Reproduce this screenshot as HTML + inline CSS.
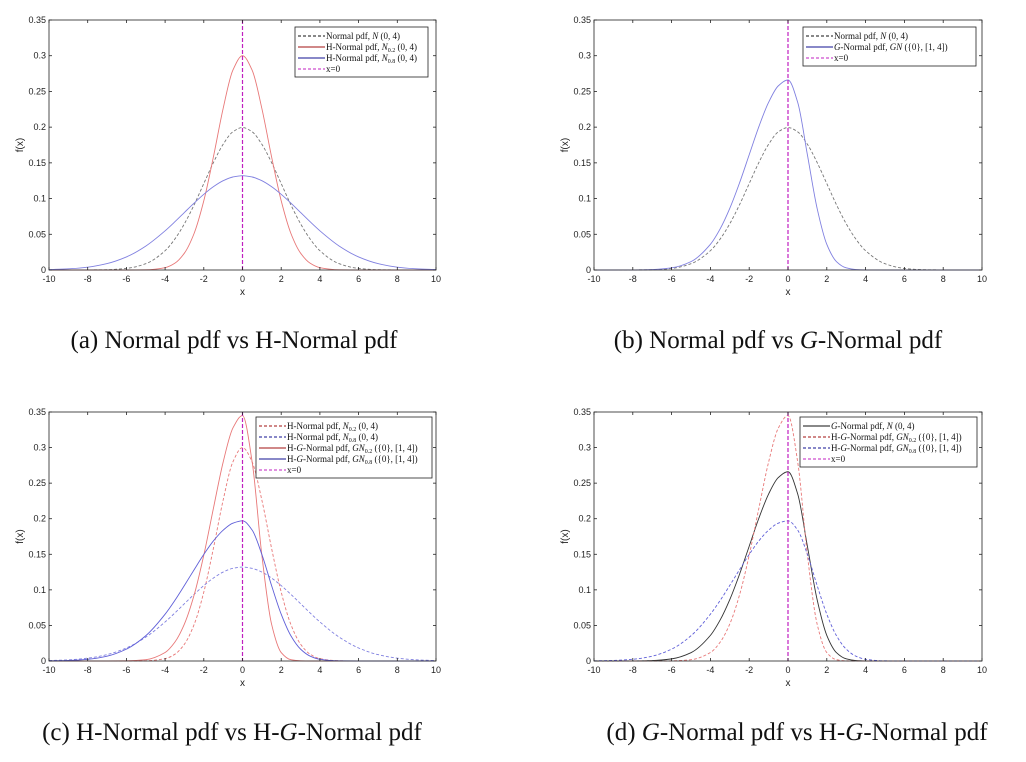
<!DOCTYPE html>
<html><head><meta charset="utf-8">
<style>
body{margin:0;background:#fff;width:1026px;height:762px;overflow:hidden}
svg{position:absolute;left:0;top:0}
text{font-family:"Liberation Sans",sans-serif}
.cap{font-family:"Liberation Serif",serif;font-size:25px;fill:#111}
.leg{font-family:"Liberation Serif",serif;font-size:9px;fill:#111}
</style></head>
<body>
<svg id="chart" width="1026" height="762"></svg>
<script>
const xs = [-10,-9,-8,-7,-6,-5,-4,-3.5,-3,-2.5,-2,-1.5,-1,-0.5,0,0.5,1,1.5,2,2.5,3,3.5,4,5,6,7,8,9,10];
const normal = [0,0,.0001,.0004,.0022,.0088,.0270,.0432,.0648,.0913,.1210,.1506,.1760,.1934,.1995,.1934,.1760,.1506,.1210,.0913,.0648,.0432,.0270,.0088,.0022,.0004,.0001,0,0];
const hNormal02 = [0,0,0,0,0,.0003,.0033,.0094,.0237,.0513,.0969,.1588,.2262,.2796,.30,.2796,.2262,.1588,.0969,.0513,.0237,.0094,.0033,.0003,0,0,0,0,0];
const hNormal08 = [.0006,.0016,.0040,.0090,.0183,.0335,.0549,.0674,.0806,.0937,.1060,.1167,.1250,.1302,.132,.1302,.1250,.1167,.1060,.0937,.0806,.0674,.0549,.0335,.0183,.0090,.0040,.0016,.0006];
const gNormal = [0,0,.0001,.0006,.0030,.0117,.0360,.0575,.0864,.1218,.1613,.2008,.2347,.2578,.266,.2347,.1613,.0864,.0360,.0117,.0030,.0006,.0001,0,0,0,0,0,0];
const hgNormal02 = [0,0,0,0,.0002,.0018,.0119,.0263,.0521,.0927,.1488,.2150,.2796,.3273,.345,.2796,.1488,.0521,.0119,.0018,.0002,0,0,0,0,0,0,0,0];
const hgNormal08 = [.0002,.0008,.0024,.0068,.0167,.0355,.0658,.0850,.1063,.1283,.1498,.1689,.1839,.1937,.197,.1839,.1498,.1063,.0658,.0355,.0167,.0068,.0024,.0002,0,0,0,0,0];
const xTicks = [-10,-8,-6,-4,-2,0,2,4,6,8,10];
const yTicks = [0,0.05,0.1,0.15,0.2,0.25,0.3,0.35];
const yTickLabels = ["0","0.05","0.1","0.15","0.2","0.25","0.3","0.35"];

const NS="http://www.w3.org/2000/svg";
const svg=document.getElementById('chart');
function mk(tag,attrs,parent){const e=document.createElementNS(NS,tag);for(const k in attrs)e.setAttribute(k,attrs[k]);(parent||svg).appendChild(e);return e;}

function smoothPath(px,py){
  const n=px.length,d=[],m=[];
  for(let i=0;i<n-1;i++)d.push((py[i+1]-py[i])/(px[i+1]-px[i]));
  m[0]=d[0];m[n-1]=d[n-2];
  for(let i=1;i<n-1;i++){ if(d[i-1]*d[i]<=0)m[i]=0; else {const w1=2*(px[i+1]-px[i])+(px[i]-px[i-1]),w2=(px[i+1]-px[i])+2*(px[i]-px[i-1]);m[i]=(w1+w2)/(w1/d[i-1]+w2/d[i]);} }
  let s="M"+px[0].toFixed(2)+","+py[0].toFixed(2);
  for(let i=0;i<n-1;i++){const h=(px[i+1]-px[i])/3;
    s+=" C"+(px[i]+h).toFixed(2)+","+(py[i]+m[i]*h).toFixed(2)+" "+(px[i+1]-h).toFixed(2)+","+(py[i+1]-m[i+1]*h).toFixed(2)+" "+px[i+1].toFixed(2)+","+py[i+1].toFixed(2);}
  return s;
}

function panel(id,L,T,R,B,series,legend,caption,capX,capY){
  const g=mk('g',{});
  
  
  const sx=v=>L+(v+10)/20*(R-L), sy=v=>B-v/0.35*(B-T);
  series.forEach(s=>{
    const p=mk('path',{d:smoothPath(xs.map(sx),s.data.map(sy)),fill:'none',stroke:s.color,'stroke-width':0.9,'stroke-dasharray':s.dash?'3,2':'none'},g);
    
    
  });
  const vl=mk('line',{x1:sx(0),x2:sx(0),y1:T,y2:B,stroke:'#c020c0','stroke-width':1.2,'stroke-dasharray':'4,2'},g);
  
  
  const ax=mk('rect',{x:L,y:T,width:R-L,height:B-T,fill:'none',stroke:'#222','stroke-width':0.8},g);
  
  
  xTicks.forEach(t=>{const x=sx(t);
    mk('line',{x1:x,x2:x,y1:B,y2:B-3,stroke:'#222','stroke-width':0.8},g);
    mk('line',{x1:x,x2:x,y1:T,y2:T+3,stroke:'#222','stroke-width':0.8},g);
    const tx=mk('text',{x:x,y:B+12,'font-size':9,'text-anchor':'middle',fill:'#222'},g);tx.textContent=t;
    
    
  });
  yTicks.forEach((t,i)=>{const y=sy(t);
    mk('line',{x1:L,x2:L+3,y1:y,y2:y,stroke:'#222','stroke-width':0.8},g);
    mk('line',{x1:R,x2:R-3,y1:y,y2:y,stroke:'#222','stroke-width':0.8},g);
    const tx=mk('text',{x:L-3,y:y+3,'font-size':9,'text-anchor':'end',fill:'#222'},g);tx.textContent=yTickLabels[i];
    
    
  });
  const xl=mk('text',{x:(L+R)/2,y:B+25,'font-size':10,'text-anchor':'middle',fill:'#222'},g);xl.textContent='x';
  
  
  const yl=mk('text',{x:0,y:0,'font-size':10,'text-anchor':'middle',fill:'#222',transform:`translate(${L-26},${(T+B)/2}) rotate(-90)`},g);yl.textContent='f(x)';
  
  
  // legend
  const lg=mk('g',{},g);
  
  
  mk('rect',{x:legend.x,y:legend.y,width:legend.w,height:legend.items.length*11+6,fill:'#fff',stroke:'#222','stroke-width':0.8},lg);
  legend.items.forEach((it,i)=>{const y=legend.y+9+i*11;
    mk('line',{x1:legend.x+3,x2:legend.x+30,y1:y,y2:y,stroke:it.color,'stroke-width':1,'stroke-dasharray':it.dash?'3,2':'none'},lg);
    const t=mk('text',{x:legend.x+31,y:y+3,class:'leg'},lg);t.innerHTML=it.label;
    
    
  });
  const c=mk('text',{x:capX,y:capY,class:'cap','text-anchor':'middle'});c.innerHTML=caption;
  
  
}
const sub=s=>`<tspan font-size="6" dy="2">${s}</tspan><tspan dy="-2"> </tspan>`;
const N='<tspan font-style="italic">N</tspan>', GN='<tspan font-style="italic">GN</tspan>', G='<tspan font-style="italic">G</tspan>';

panel('a',49,20,436,270,[
  {name:'normal',data:normal,color:'#777',dash:true},
  {name:'h-normal-02',data:hNormal02,color:'#e87878'},
  {name:'h-normal-08',data:hNormal08,color:'#8080e0'}],
 {x:295,y:27,w:133,items:[
  {label:'Normal pdf, '+N+' (0, 4)',color:'#111',dash:true},
  {label:'H-Normal pdf, '+N+sub('0.2')+'(0, 4)',color:'#a01010'},
  {label:'H-Normal pdf, '+N+sub('0.8')+'(0, 4)',color:'#101090'},
  {label:'x=0',color:'#c020c0',dash:true}]},
 '(a)  Normal pdf vs H-Normal pdf',234,348);

panel('b',594,20,982,270,[
  {name:'normal',data:normal,color:'#777',dash:true},
  {name:'g-normal',data:gNormal,color:'#8080e0'}],
 {x:803,y:27,w:173,items:[
  {label:'Normal pdf, '+N+' (0, 4)',color:'#111',dash:true},
  {label:G+'-Normal pdf, '+GN+' ({0}, [1, 4])',color:'#101090'},
  {label:'x=0',color:'#c020c0',dash:true}]},
 '(b)  Normal pdf vs <tspan font-style="italic">G</tspan>-Normal pdf',778,348);

panel('c',49,412,436,661,[
  {name:'h-normal-02',data:hNormal02,color:'#e87878',dash:true},
  {name:'h-normal-08',data:hNormal08,color:'#8080e0',dash:true},
  {name:'hg-normal-02',data:hgNormal02,color:'#e87878'},
  {name:'hg-normal-08',data:hgNormal08,color:'#6060d8'}],
 {x:256,y:417,w:176,items:[
  {label:'H-Normal pdf, '+N+sub('0.2')+'(0, 4)',color:'#a01010',dash:true},
  {label:'H-Normal pdf, '+N+sub('0.8')+'(0, 4)',color:'#101090',dash:true},
  {label:'H-'+G+'-Normal pdf, '+GN+sub('0.2')+'({0}, [1, 4])',color:'#a01010'},
  {label:'H-'+G+'-Normal pdf, '+GN+sub('0.8')+'({0}, [1, 4])',color:'#101090'},
  {label:'x=0',color:'#c020c0',dash:true}]},
 '(c)  H-Normal pdf vs H-<tspan font-style="italic">G</tspan>-Normal pdf',232,740);

panel('d',594,412,982,661,[
  {name:'g-normal',data:gNormal,color:'#333'},
  {name:'hg-normal-02',data:hgNormal02,color:'#e87878',dash:true},
  {name:'hg-normal-08',data:hgNormal08,color:'#6060d8',dash:true}],
 {x:800,y:417,w:177,items:[
  {label:G+'-Normal pdf, '+N+' (0, 4)',color:'#111'},
  {label:'H-'+G+'-Normal pdf, '+GN+sub('0.2')+'({0}, [1, 4])',color:'#a01010',dash:true},
  {label:'H-'+G+'-Normal pdf, '+GN+sub('0.8')+'({0}, [1, 4])',color:'#101090',dash:true},
  {label:'x=0',color:'#c020c0',dash:true}]},
 '(d)  <tspan font-style="italic">G</tspan>-Normal pdf vs H-<tspan font-style="italic">G</tspan>-Normal pdf',797,740);
</script>
</body></html>
